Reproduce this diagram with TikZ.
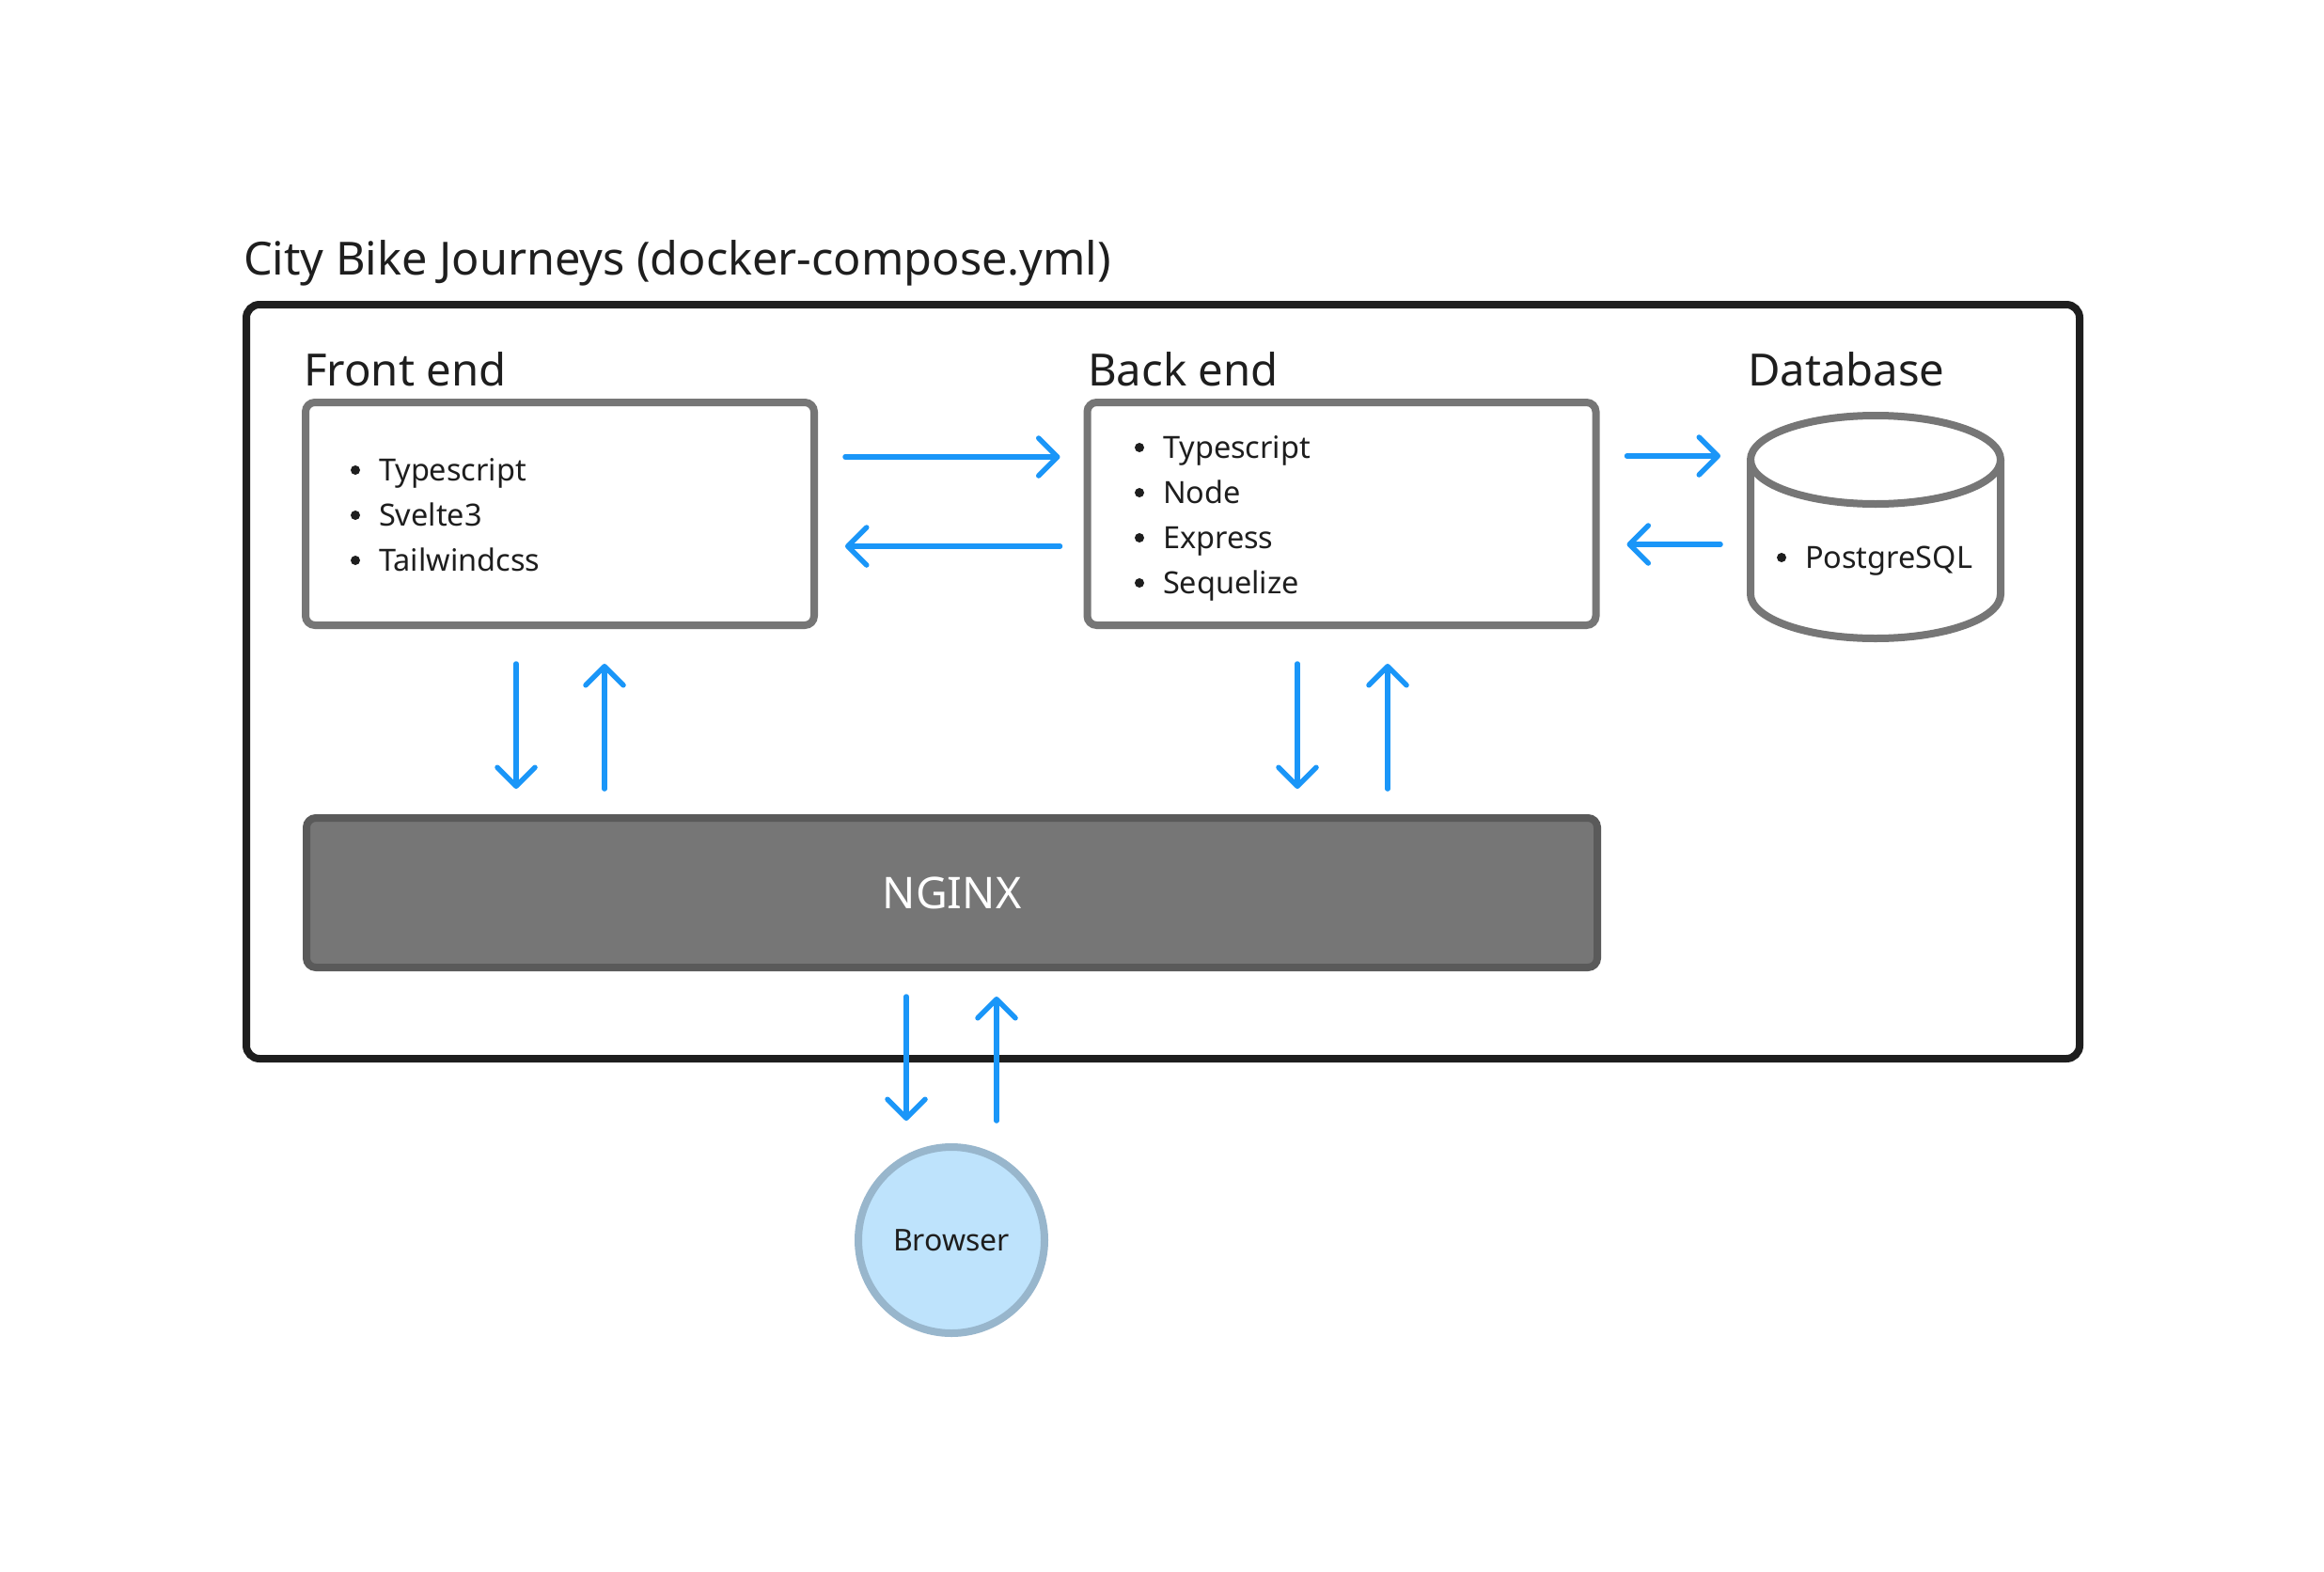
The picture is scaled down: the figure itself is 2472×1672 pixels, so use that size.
\documentclass[tikz,border=0pt]{standalone}
\usepackage{fontspec}
\setmainfont{Noto Sans}
\usetikzlibrary{arrows.meta}
\definecolor{ink}{HTML}{1E1E1E}
\definecolor{boxgray}{HTML}{767676}
\definecolor{nginxedge}{HTML}{5A5A5A}
\definecolor{arrowblue}{HTML}{1A96F8}
\definecolor{browserfill}{HTML}{BEE3FC}
\definecolor{browseredge}{HTML}{98B6CC}
\tikzset{
  every node/.style={inner sep=0pt, outer sep=0pt, text=ink},
  frame/.style={draw=ink, line width=8pt, rounded corners=14pt},
  techbox/.style={draw=boxgray, line width=8pt, rounded corners=10pt, fill=white,
    minimum width=541pt, minimum height=237pt},
  nginxbox/.style={draw=nginxedge, fill=boxgray, line width=8pt, rounded corners=10pt,
    minimum width=1373pt, minimum height=159pt, text=white,
    font=\fontsize{46.5}{56}\selectfont},
  heading/.style={anchor=base west, font=\fontsize{47.3}{56}\selectfont},
  titletext/.style={anchor=base west, font=\fontsize{48.6}{58}\selectfont},
  item/.style={anchor=base west, font=\fontsize{32.5}{39}\selectfont},
  dot/.style={fill=ink, draw=none, circle, minimum size=10pt},
  flow/.style={draw=arrowblue, line width=5.5pt, line cap=round,
    -{Straight Barb[length=20pt, width=40pt, round]}},
  browser/.style={circle, draw=browseredge, fill=browserfill, line width=8pt,
    minimum size=198pt, font=\fontsize{32}{38}\selectfont},
  dbline/.style={draw=boxgray, line width=8pt},
}
\begin{document}
\begin{tikzpicture}[x=1pt, y=-1pt]
\useasboundingbox (0,0) rectangle (2472,1672);
\fill[white] (0,0) rectangle (2472,1672);

% title and outer frame
\node[titletext] (title) at (259,292) {City Bike Journeys (docker-compose.yml)};
\draw[frame] (262,324) rectangle (2212,1126);

% headings
\node[heading] (hfe) at (323,410) {Front end};
\node[heading] (hbe) at (1157,410) {Back end};
\node[heading] (hdb) at (1859,410) {Database};

% front end box
\node[techbox] (fe) at (595.5,546.5) {};
\node[dot] (fed1) at (378,500) {};
\node[dot] (fed2) at (378,548) {};
\node[dot] (fed3) at (378,596) {};
\node[item] (fe1) at (403,511) {Typescript};
\node[item] (fe2) at (403,559) {Svelte3};
\node[item] (fe3) at (403,607) {Tailwindcss};

% back end box
\node[techbox] (be) at (1427,546.5) {};
\node[dot] (bed1) at (1212,476) {};
\node[dot] (bed2) at (1212,524) {};
\node[dot] (bed3) at (1212,572) {};
\node[dot] (bed4) at (1212,620) {};
\node[item] (be1) at (1237,487) {Typescript};
\node[item] (be2) at (1237,535) {Node};
\node[item] (be3) at (1237,583) {Express};
\node[item] (be4) at (1237,631) {Sequelize};

% database cylinder
\fill[white] (1862,489) -- (1862,632) arc[start angle=180, end angle=0, x radius=133, y radius=47]
  -- (2128,489) -- cycle;
\draw[dbline] (1862,489) -- (1862,632) arc[start angle=180, end angle=0, x radius=133, y radius=47]
  -- (2128,489);
\draw[dbline] (1995,489) ellipse[x radius=133, y radius=47];
\coordinate (db) at (1995,560);
\coordinate (dbw) at (1862,560);
\node[dot] (dbd1) at (1895,593) {};
\node[item] (db1) at (1920,604) {PostgreSQL};

% NGINX
\node[nginxbox] (ngx) at (1012.5,949.5) {NGINX};

% browser
\node[browser] (br) at (1012,1319) {Browser};

% horizontal connectors
\draw[flow, shorten <=33pt, shorten >=29pt] (fe.east |- 0,486) -- (be.west |- 0,486);
\draw[flow, shorten <=29pt, shorten >=33pt] (be.west |- 0,581) -- (fe.east |- 0,581);
\draw[flow, shorten <=33pt, shorten >=32pt] (be.east |- 0,485) -- (dbw |- 0,485);
\draw[flow, shorten <=32pt, shorten >=33pt] (dbw |- 0,579) -- (be.east |- 0,579);

% vertical connectors front end / nginx
\draw[flow, shorten <=41pt, shorten >=31pt] (fe.south -| 549,0) -- (ngx.north -| 549,0);
\draw[flow, shorten <=31pt, shorten >=41pt] (ngx.north -| 643,0) -- (fe.south -| 643,0);
% back end / nginx
\draw[flow, shorten <=41pt, shorten >=31pt] (be.south -| 1380,0) -- (ngx.north -| 1380,0);
\draw[flow, shorten <=31pt, shorten >=41pt] (ngx.north -| 1476,0) -- (be.south -| 1476,0);
% nginx / browser
\draw[flow, shorten <=31pt, shorten >=28pt] (ngx.south -| 964,0) -- (br.north -| 964,0);
\draw[flow, shorten <=28pt, shorten >=31pt] (br.north -| 1060,0) -- (ngx.south -| 1060,0);
\end{tikzpicture}
\end{document}
